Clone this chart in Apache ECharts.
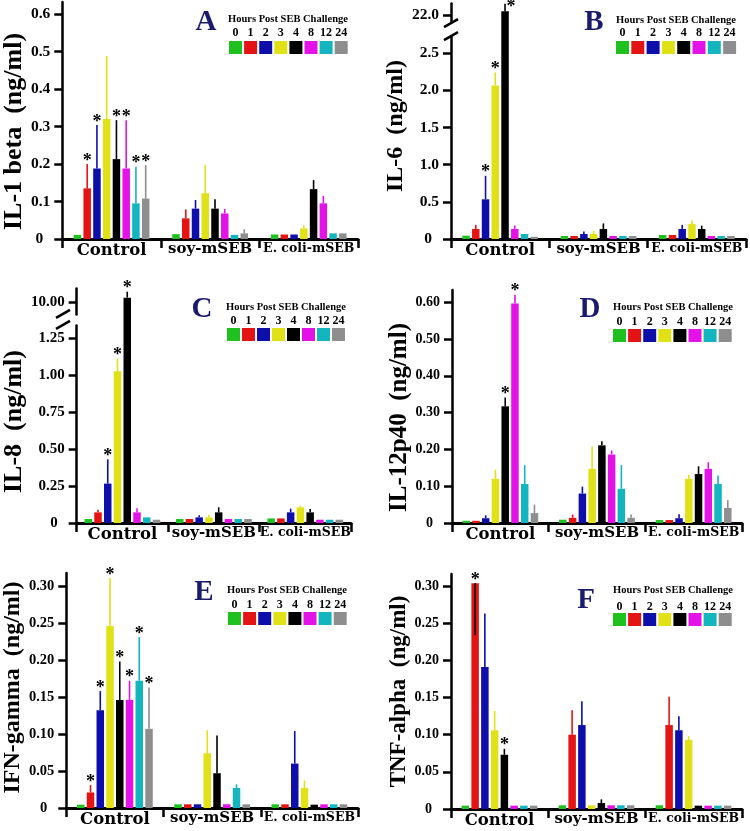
<!DOCTYPE html>
<html><head><meta charset="utf-8">
<script src="https://cdn.jsdelivr.net/npm/echarts@6/dist/echarts.min.js"></script>
<style>html,body{margin:0;padding:0;background:#fff}#c{width:750px;height:831px}</style>
</head><body><div id="c"></div>
<script>
// ---------- data ----------
const groups = ['Control', 'soy-mSEB', 'E. coli-mSEB'];
const hours = ['0', '1', '2', '3', '4', '8', '12', '24'];
const legendTitle = 'Hours Post SEB Challenge';
const hourColors = ['#1fc11f', '#e51414', '#0e0eab', '#e1e117', '#000000', '#e312e6', '#13b5bf', '#8e8e8e'];

// rows = groups (Control, soy-mSEB, E. coli-mSEB), columns = hours
const il1Mean  = [[0.011,0.135,0.188,0.320,0.213,0.188,0.095,0.108],[0.013,0.055,0.081,0.122,0.081,0.068,0.011,0.015],[0.012,0.012,0.012,0.028,0.133,0.095,0.015,0.015]];
const il1Upper = [[null,0.200,0.304,0.488,0.317,0.317,0.193,0.197],[null,0.079,0.104,0.197,0.106,0.080,null,0.026],[null,null,null,0.037,0.157,0.115,null,null]];
const il1Stars = [[0,1,1,0,1,1,1,1],[0,0,0,0,0,0,0,0],[0,0,0,0,0,0,0,0]];
const il1Ticks = ['0','0.1','0.2','0.3','0.4','0.5','0.6'];

const il6Mean  = [[0.045,0.135,0.534,2.065,22.05,0.135,0.067,0.030],[0.040,0.040,0.067,0.067,0.135,0.040,0.040,0.040],[0.054,0.054,0.135,0.200,0.135,0.040,0.040,0.040]];
const il6Upper = [[null,0.190,0.850,2.240,22.15,0.180,null,null],[null,null,0.100,0.110,0.210,null,null,null],[null,null,0.190,0.250,0.180,null,null,null]];
const il6Stars = [[0,0,1,1,2,0,0,0],[0,0,0,0,0,0,0,0],[0,0,0,0,0,0,0,0]];
const il6Ticks = ['0','0.5','1.0','1.5','2.0','2.5','22.0'];

const il8Mean  = [[0.027,0.072,0.266,1.025,10.03,0.072,0.038,0.022],[0.027,0.027,0.038,0.038,0.072,0.027,0.027,0.027],[0.031,0.031,0.072,0.106,0.072,0.022,0.022,0.022]];
const il8Upper = [[null,0.090,0.430,1.110,10.07,0.100,null,null],[null,null,0.052,0.056,0.106,null,null,null],[null,null,0.097,0.117,0.095,null,null,null]];
const il8Stars = [[0,0,1,1,1,0,0,0],[0,0,0,0,0,0,0,0],[0,0,0,0,0,0,0,0]];
const il8Ticks = ['0','0.25','0.50','0.75','1.00','1.25','10.00'];

const il12Mean  = [[0.006,0.006,0.013,0.120,0.317,0.596,0.106,0.027],[0.009,0.014,0.080,0.147,0.211,0.186,0.093,0.014],[0.008,0.008,0.013,0.120,0.133,0.147,0.106,0.041]];
const il12Upper = [[null,null,0.021,0.145,0.341,0.620,0.157,0.050],[null,0.023,0.099,0.208,0.222,0.197,0.157,0.023],[null,null,0.024,0.131,0.154,0.165,0.129,0.062]];
const il12Stars = [[0,0,0,0,1,1,0,0],[0,0,0,0,0,0,0,0],[0,0,0,0,0,0,0,0]];
const il12Ticks = ['0','0.10','0.20','0.30','0.40','0.50','0.60'];

const ifnMean  = [[0.0045,0.021,0.132,0.246,0.146,0.146,0.172,0.107],[0.005,0.005,0.005,0.074,0.047,0.005,0.027,0.005],[0.005,0.005,0.060,0.027,0.0045,0.005,0.005,0.005]];
const ifnUpper = [[null,0.031,0.158,0.311,0.198,0.172,0.231,0.163],[null,null,null,0.105,0.098,null,0.032,null],[null,null,0.104,0.037,null,null,null,null]];
const ifnStars = [[0,1,1,1,1,1,1,1],[0,0,0,0,0,0,0,0],[0,0,0,0,0,0,0,0]];
const ifnTicks = ['0','0.05','0.10','0.15','0.20','0.25','0.30'];

const tnfMean  = [[0.0045,0.304,0.191,0.106,0.073,0.0045,0.0045,0.0045],[0.005,0.100,0.113,0.005,0.008,0.005,0.005,0.005],[0.005,0.113,0.106,0.093,0.0045,0.0045,0.0045,0.0045]];
const tnfUpper = [[null,null,0.263,0.132,0.081,null,null,null],[null,0.133,0.145,null,0.013,null,null,null],[null,0.151,0.125,0.098,null,null,null,null]];
const tnfLower = [[null,0.234,null,null,null,null,null,null],[null,null,null,null,null,null,null,null],[null,null,null,null,null,null,null,null]];
const tnfStars = [[0,1,0,0,1,0,0,0],[0,0,0,0,0,0,0,0],[0,0,0,0,0,0,0,0]];
const tnfTicks = ['0','0.05','0.10','0.15','0.20','0.25','0.30'];

// ---------- layout / style ----------
const SERIF = '"Liberation Serif","Times New Roman",serif';
const WIDE = '"DejaVu Serif",serif';
const BW = 7.5, GAP = 0.3;
const TOTAL = hours.length * BW + (hours.length - 1) * BW * GAP;
const offs = hours.map((_, i) => -TOTAL / 2 + i * BW * (1 + GAP) + BW / 2);

const panels = [
  {letter:'A', title:'IL-1 beta  (ng/ml)', mean:il1Mean, upper:il1Upper, lower:null, stars:il1Stars, ticks:il1Ticks, max:0.632, brk:null,
   grid:{left:62, top:2, width:296, height:237}, tickSize:15.5, nameSize:26, nameGap:34, nameShift:11,
   lg:{lx:206, ly:23, tx:288, ty:19, ny:33, sx:229, sy:41, step:15.1}},
  {letter:'B', title:'IL-6  (ng/ml)', mean:il6Mean, upper:il6Upper, lower:null, stars:il6Stars, ticks:il6Ticks, max:22.16, brk:{start:2.73, end:21.89, gap:0.175},
   grid:{left:451, top:3, width:295, height:236}, tickSize:15.5, nameSize:24, nameGap:37, nameShift:5,
   lg:{lx:594, ly:23, tx:676, ty:20, ny:33, sx:616, sy:41, step:15.3}},
  {letter:'C', title:'IL-8  (ng/ml)', mean:il8Mean, upper:il8Upper, lower:null, stars:il8Stars, ticks:il8Ticks, max:10.095, brk:{start:1.338, end:9.92, gap:0.074},
   grid:{left:63, top:288, width:288, height:235}, tickSize:15, nameSize:26, nameGap:35, nameShift:16,
   lg:{lx:202, ly:310, tx:286, ty:307, ny:321, sx:227, sy:328, step:15}},
  {letter:'D', title:'IL-12p40  (ng/ml)', mean:il12Mean, upper:il12Upper, lower:null, stars:il12Stars, ticks:il12Ticks, max:0.633, brk:null,
   grid:{left:452, top:290, width:290, height:233}, tickSize:14, nameSize:25, nameGap:36, nameShift:11,
   lg:{lx:590, ly:310, tx:673, ty:307, ny:322, sx:613, sy:329, step:15.1}},
  {letter:'E', title:'IFN-gamma  (ng/ml)', mean:ifnMean, upper:ifnUpper, lower:null, stars:ifnStars, ticks:ifnTicks, max:0.3176, brk:null,
   grid:{left:64, top:573, width:294, height:235}, tickSize:14.5, nameSize:24, nameGap:38, nameShift:-3,
   lg:{lx:204, ly:593, tx:287, ty:590, ny:605, sx:228, sy:612, step:15.1}},
  {letter:'F', title:'TNF-alpha  (ng/ml)', mean:tnfMean, upper:tnfUpper, lower:tnfLower, stars:tnfStars, ticks:tnfTicks, max:0.3163, brk:null,
   grid:{left:451, top:574, width:291, height:235}, tickSize:14, nameSize:23, nameGap:38, nameShift:0,
   lg:{lx:586, ly:601, tx:673, ty:590, ny:607, sx:613, sy:613, step:15.1}}
];

const chart = echarts.init(document.getElementById('c'), null, {renderer:'canvas'});

const grids = [], xAxes = [], yAxes = [], series = [];
panels.forEach((p, pi) => {
  grids.push(Object.assign({containLabel:false}, p.grid));
  xAxes.push({
    type:'category', gridIndex:pi, data:groups, boundaryGap:true,
    axisLine:{show:true, lineStyle:{color:'#000', width:3}},
    axisTick:{show:true, length:9, inside:false, lineStyle:{color:'#000', width:2.5}},
    splitLine:{show:false},
    axisLabel:{margin:3, color:'#000', interval:0,
      formatter:(v, idx) => '{g' + idx + '|' + v + '}',
      rich:{
        g0:{fontFamily:WIDE, fontWeight:'bold', fontSize:16.5, color:'#000'},
        g1:{fontFamily:WIDE, fontWeight:'bold', fontSize:15, color:'#000'},
        g2:{fontFamily:WIDE, fontWeight:'bold', fontSize:12.5, color:'#000'}
      }}
  });
  const tickVals = p.ticks.map(Number);
  const sh = p.nameShift;
  const y = {
    type:'value', gridIndex:pi, min:0, max:p.max,
    splitLine:{show:false},
    axisLine:{show:true, lineStyle:{color:'#000', width:2.5}},
    axisTick:{show:true, length:8, inside:false, customValues:tickVals, lineStyle:{color:'#000', width:2.5}},
    axisLabel:{customValues:tickVals, margin:12, color:'#000', fontFamily:SERIF, fontWeight:'bold', fontSize:p.tickSize,
      formatter:(v) => {
        const i = tickVals.findIndex(t => Math.abs(t - v) < 1e-9);
        const s = i >= 0 ? p.ticks[i] : '';
        return v === 0 ? '{z|' + s + '}' : s;
      },
      rich:{z:{fontFamily:SERIF, fontWeight:'bold', fontSize:p.tickSize, color:'#000', padding:[0, 7, 0, 0]}}},
    name:p.title, nameLocation:'middle', nameGap:p.nameGap, nameRotate:90,
    nameTextStyle:{fontFamily:SERIF, fontWeight:'bold', fontSize:p.nameSize, color:'#000',
      padding: sh >= 0 ? [0, 2 * sh, 0, 0] : [0, 0, 0, -2 * sh]}
  };
  if (p.brk) {
    y.breaks = [{start:p.brk.start, end:p.brk.end, gap:p.brk.gap}];
    y.breakArea = {show:false, itemStyle:{opacity:0}, expandOnClick:false};
  }
  yAxes.push(y);

  hours.forEach((h, hi) => {
    series.push({
      type:'bar', name:h, xAxisIndex:pi, yAxisIndex:pi, barWidth:BW, barGap:(GAP * 100) + '%',
      itemStyle:{color:hourColors[hi]}, silent:true,
      data: groups.map((g, gi) => p.mean[gi][hi])
    });
  });

  const errData = [];
  groups.forEach((g, gi) => hours.forEach((h, hi) => {
    const m = p.mean[gi][hi];
    const up = p.upper[gi][hi];
    const lo = p.lower ? p.lower[gi][hi] : null;
    errData.push([gi, m, hi, up == null ? m : up, p.stars[gi][hi], lo == null ? m : lo]);
  }));
  series.push({
    type:'custom', xAxisIndex:pi, yAxisIndex:pi, clip:false, silent:true, z:5,
    encode:{x:0, y:1},
    data:errData,
    renderItem:(params, api) => {
      const gi = api.value(0), m = api.value(1), hi = api.value(2), up = api.value(3), st = api.value(4), lo = api.value(5);
      const base = api.coord([gi, m]);
      const x = base[0] + offs[hi];
      const children = [];
      let topY = base[1];
      if (up > m) {
        const yUp = api.coord([gi, up])[1];
        topY = yUp;
        children.push({type:'line', shape:{x1:x, y1:base[1], x2:x, y2:yUp}, style:{stroke:hourColors[hi], lineWidth:1.6}});
      }
      if (lo < m) {
        const yLo = api.coord([gi, lo])[1];
        children.push({type:'line', shape:{x1:x, y1:base[1], x2:x, y2:yLo}, style:{stroke:'#000', lineWidth:1.6}});
      }
      if (st === 1) {
        children.push({type:'text', x:x, y:topY - 3, style:{text:'*', align:'center', verticalAlign:'middle', fontFamily:SERIF, fontWeight:'bold', fontSize:18, fill:'#000'}});
      } else if (st === 2) {
        children.push({type:'text', x:x + 6, y:topY + 4, style:{text:'*', align:'center', verticalAlign:'middle', fontFamily:SERIF, fontWeight:'bold', fontSize:18, fill:'#000'}});
      }
      return {type:'group', children};
    }
  });
});

function legendGraphics() {
  const els = [];
  panels.forEach((p) => {
    const L = p.lg;
    els.push({type:'text', x:L.lx, y:L.ly, z:50, style:{text:p.letter, align:'center', verticalAlign:'middle', fontFamily:SERIF, fontWeight:'bold', fontSize:29, fill:'#1b1b6e'}});
    els.push({type:'text', x:L.tx, y:L.ty, z:50, style:{text:legendTitle, align:'center', verticalAlign:'middle', fontFamily:SERIF, fontWeight:'bold', fontSize:10.5, fill:'#000'}});
    hours.forEach((h, hi) => {
      const sx = L.sx + hi * L.step;
      els.push({type:'text', x:sx + 6.5, y:L.ny, z:50, style:{text:h, align:'center', verticalAlign:'middle', fontFamily:SERIF, fontWeight:'bold', fontSize:12, fill:'#000'}});
      els.push({type:'rect', z:50, shape:{x:sx, y:L.sy, width:13, height:13}, style:{fill:hourColors[hi]}});
    });
  });
  return els;
}

chart.setOption({
  animation:false,
  backgroundColor:'#fff',
  grid:grids, xAxis:xAxes, yAxis:yAxes, series:series,
  graphic:legendGraphics()
});

// axis-break marks on the y axes of B and C
const extra = [];
panels.forEach((p, pi) => {
  if (!p.brk) return;
  const ax = p.grid.left;
  const yLow = chart.convertToPixel({yAxisIndex:pi}, p.brk.start);
  const yHigh = chart.convertToPixel({yAxisIndex:pi}, p.brk.end);
  extra.push({type:'rect', z:60, shape:{x:ax - 3, y:yHigh, width:6, height:yLow - yHigh}, style:{fill:'#fff'}});
  [yLow, yHigh].forEach(yy => {
    extra.push({type:'line', z:61, shape:{x1:ax - 7, y1:yy + 4, x2:ax + 7, y2:yy - 4}, style:{stroke:'#000', lineWidth:2.5}});
  });
});
chart.setOption({graphic:legendGraphics().concat(extra)}, {replaceMerge:['graphic']});
</script>
</body></html>
